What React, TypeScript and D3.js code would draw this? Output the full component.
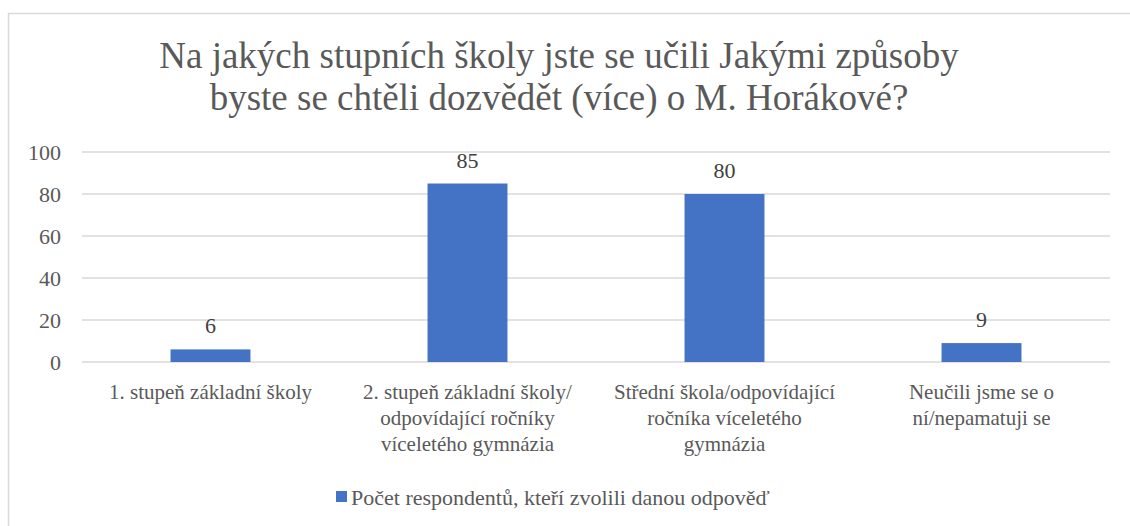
import React, { useEffect, useRef } from 'react';
import * as d3 from 'd3';

const categories: string[][] = [
  ['1. stupeň základní školy'],
  ['2. stupeň základní školy/', 'odpovídající ročníky', 'víceletého gymnázia'],
  ['Střední škola/odpovídající', 'ročníka víceletého', 'gymnázia'],
  ['Neučili jsme se o', 'ní/nepamatuji se'],
];
const values: number[] = [6, 85, 80, 9];
const yTicks: number[] = [0, 20, 40, 60, 80, 100];
const titleLines: string[] = [
  'Na jakých stupních školy jste se učili Jakými způsoby',
  'byste se chtěli dozvědět (více) o M. Horákové?',
];
const seriesName = 'Počet respondentů, kteří zvolili danou odpověď';

const W = 1130;
const H = 526;
const FONT =
  'Liberation Serif, Tinos, Times New Roman, Times, Nimbus Roman, Nimbus Roman No9 L, DejaVu Serif, Noto Serif, FreeSerif, serif';
const BLUE = '#4472c4';

export default function App() {
  const ref = useRef<SVGSVGElement>(null);

  useEffect(() => {
    const svg = d3.select(ref.current);
    svg.selectAll('*').remove();

    const margin = { top: 152, right: 20, bottom: 164, left: 82 };
    const x = d3
      .scaleBand<number>()
      .domain(d3.range(values.length))
      .range([margin.left, W - margin.right])
      .paddingInner(0.689)
      .paddingOuter(0.3445);
    const y = d3.scaleLinear().domain([0, 100]).range([H - margin.bottom, margin.top]);

    const g = svg.append('g');

    // chart frame
    g.append('rect')
      .attr('x', 8.5).attr('y', 13.5)
      .attr('width', W).attr('height', H)
      .attr('fill', '#fff').attr('stroke', '#d9d9d9').attr('stroke-width', 1.5);

    // title
    g.append('text')
      .attr('x', 559).attr('y', 68)
      .attr('text-anchor', 'middle')
      .attr('font-size', 37).attr('fill', '#595959')
      .selectAll('tspan')
      .data(titleLines)
      .enter().append('tspan')
      .attr('x', 559)
      .attr('dy', (d, i) => (i === 0 ? 0 : 42))
      .text(d => d);

    // gridlines
    g.append('g')
      .selectAll('line')
      .data(yTicks)
      .enter().append('line')
      .attr('x1', margin.left).attr('x2', W - margin.right)
      .attr('y1', d => y(d)).attr('y2', d => y(d))
      .attr('stroke', '#d9d9d9').attr('stroke-width', 1.5);

    // y tick labels
    g.append('g')
      .selectAll('text')
      .data(yTicks)
      .enter().append('text')
      .attr('x', 61).attr('y', d => y(d))
      .attr('dy', '0.35em')
      .attr('text-anchor', 'end')
      .attr('font-size', 22).attr('fill', '#595959')
      .text(d => d);

    // bars
    g.append('g')
      .selectAll('rect')
      .data(values)
      .enter().append('rect')
      .attr('x', (d, i) => x(i)!)
      .attr('width', x.bandwidth())
      .attr('y', d => y(d))
      .attr('height', d => y(0) - y(d))
      .attr('fill', BLUE);

    // data labels
    g.append('g')
      .selectAll('text')
      .data(values)
      .enter().append('text')
      .attr('x', (d, i) => x(i)! + x.bandwidth() / 2)
      .attr('y', d => y(d) - 16)
      .attr('text-anchor', 'middle')
      .attr('font-size', 22).attr('fill', '#404040')
      .text(d => d);

    // category labels
    const cat = g.append('g')
      .selectAll('text')
      .data(categories)
      .enter().append('text')
      .attr('text-anchor', 'middle')
      .attr('font-size', 21).attr('fill', '#595959')
      .attr('transform', (d, i) => `translate(${x(i)! + x.bandwidth() / 2},399)`);
    cat.selectAll('tspan')
      .data(d => d)
      .enter().append('tspan')
      .attr('x', 0)
      .attr('y', (d, i) => i * 26)
      .text(d => d);

    // legend
    const legend = g.append('g').attr('transform', 'translate(336,491)');
    legend.append('rect').attr('width', 11).attr('height', 11).attr('fill', BLUE);
    legend.append('text')
      .attr('x', 15).attr('y', 14)
      .attr('font-size', 22).attr('fill', '#595959')
      .text(seriesName);
  }, []);

  return (
    <svg
      ref={ref}
      width={W}
      height={H}
      fontFamily={FONT}
      style={{ position: 'absolute', left: 0, top: 0, background: '#fff' }}
    />
  );
}
